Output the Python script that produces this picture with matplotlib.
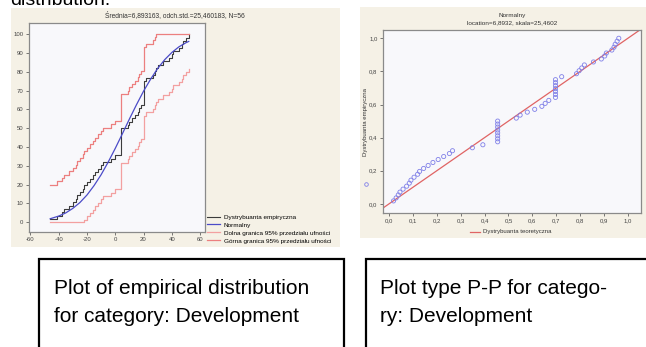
import matplotlib
matplotlib.use("Agg")
import matplotlib.pyplot as plt
from matplotlib.patches import Rectangle
from matplotlib.ticker import FuncFormatter

plt.rcParams['font.family'] = ['Liberation Sans', 'DejaVu Sans']
plt.rcParams['axes.unicode_minus'] = False

# --- empirical distribution (left chart) ---
step_x = [-46, -41, -38, -36, -33, -30, -28, -27, -25, -23, -22, -20, -18, -16, -14, -12,
          -10, -9, -3, 0, 4, 9, 10, 12, 14, 16, 17, 18, 20, 22, 27, 28, 29, 30, 34, 38,
          40, 41, 45, 47, 48, 50, 52]
ecdf_pct = [1.8, 3.6, 5.4, 7.1, 8.9, 10.7, 12.5, 14.3, 16.1, 17.9, 19.6, 21.4, 23.2, 25.0,
            26.8, 28.6, 30.4, 32.1, 33.9, 35.7, 50.0, 51.8, 53.6, 55.4, 57.1, 58.9, 60.7,
            62.5, 75.0, 76.8, 78.6, 80.4, 82.1, 83.9, 85.7, 87.5, 89.3, 91.1, 92.9, 94.6,
            96.4, 98.2, 100.0]
lower_pct = [0, 0, 0, 0, 0, 0, 0, 0, 0, 0, 1.4, 3.2, 5.0, 6.8, 8.6, 10.4, 12.2, 13.9, 15.7,
             17.5, 31.8, 33.6, 35.4, 37.2, 38.9, 40.7, 42.5, 44.3, 56.8, 58.6, 60.4, 62.2,
             63.9, 65.7, 67.5, 69.3, 71.1, 72.9, 74.7, 76.4, 78.2, 80.0, 81.8]
upper_pct = [20.0, 21.8, 23.6, 25.3, 27.1, 28.9, 30.7, 32.5, 34.3, 36.1, 37.8, 39.6, 41.4,
             43.2, 45.0, 46.8, 48.6, 50.3, 52.1, 53.9, 68.2, 70.0, 71.8, 73.6, 75.3, 77.1,
             78.9, 80.7, 93.2, 95.0, 96.8, 98.6, 100, 100, 100, 100, 100, 100, 100, 100,
             100, 100, 100]
normal_x = [-46, -40, -35, -30, -25, -20, -15, -10, -5, 0, 5, 10, 15, 20, 25, 30, 35, 40,
            45, 50, 52]
normal_pct = [1.9, 3.3, 5.0, 7.4, 10.5, 14.5, 19.5, 25.3, 32.0, 39.3, 47.0, 54.9, 62.5,
              69.7, 76.1, 81.8, 86.5, 90.3, 93.3, 95.5, 96.2]
left_labels = ['Dystrybuanta empiryczna', 'Normalny',
               'Dolna granica 95% przedziału ufności', 'Górna granica 95% przedziału ufności']

# --- P-P plot (right chart) ---
pp_theor = [0.019, 0.030, 0.039, 0.046, 0.059, 0.074, 0.085, 0.092, 0.105, 0.120, 0.128,
            0.145, 0.164, 0.184, 0.206, 0.229, 0.253, 0.266, 0.349, 0.393,
            0.455, 0.455, 0.455, 0.455, 0.455, 0.455, 0.455, 0.455,
            0.533, 0.549, 0.579, 0.610, 0.640, 0.654, 0.669,
            0.697, 0.697, 0.697, 0.697, 0.697, 0.697, 0.697,
            0.723, 0.785, 0.796, 0.807, 0.818, 0.856, 0.889, 0.903, 0.910, 0.933, 0.942,
            0.947, 0.955, 0.962]
pp_emp = [0.018, 0.036, 0.054, 0.071, 0.089, 0.107, 0.125, 0.143, 0.161, 0.179, 0.196,
          0.214, 0.232, 0.250, 0.268, 0.286, 0.304, 0.321, 0.339, 0.357,
          0.375, 0.393, 0.411, 0.429, 0.446, 0.464, 0.482, 0.500,
          0.518, 0.536, 0.554, 0.571, 0.589, 0.607, 0.625,
          0.643, 0.661, 0.679, 0.696, 0.714, 0.732, 0.750,
          0.768, 0.786, 0.804, 0.821, 0.839, 0.857, 0.875, 0.893, 0.911, 0.929, 0.946,
          0.964, 0.982, 1.000]

W, H = 646, 347
def fx(px):
    return px / W
def fy(py):
    return 1 - py / H

BEIGE = '#f5f1e6'
PLOTBG = '#f8f8fb'
TICK = '#444444'

fig = plt.figure(figsize=(6.46, 3.47), dpi=100)
fig.patch.set_facecolor('white')

# cut-off heading from the page above
fig.text(fx(10), fy(5), 'distribution.', fontsize=14, va='baseline', color='black')

# panel backgrounds
fig.patches.append(Rectangle((fx(11), fy(247)), (340 - 11) / W, (247 - 8) / H,
                             transform=fig.transFigure, facecolor=BEIGE, edgecolor='none', zorder=-5))
fig.patches.append(Rectangle((fx(360), fy(238)), (646 - 360) / W, (238 - 7) / H,
                             transform=fig.transFigure, facecolor=BEIGE, edgecolor='none', zorder=-5))

def style_axes(ax):
    ax.set_facecolor(PLOTBG)
    for s in ax.spines.values():
        s.set_color('#8a8a8a')
        s.set_linewidth(0.9)
    ax.tick_params(labelsize=4.3, colors=TICK, length=2, width=0.5, pad=2)

# left chart: empirical distribution function
ax1 = fig.add_axes([fx(29), fy(231.7), 176 / W, 208.7 / H])
style_axes(ax1)
ax1.step(step_x, ecdf_pct, where='post', color='#3c3c3c', lw=0.8, label=left_labels[0])
ax1.plot(normal_x, normal_pct, color='#4b4bc8', lw=0.9, label=left_labels[1])
ax1.step(step_x, lower_pct, where='post', color='#f3a0a0', lw=0.9, label=left_labels[2])
ax1.step(step_x, upper_pct, where='post', color='#ec7f7f', lw=0.9, label=left_labels[3])
ax1.set_xlim(-61, 63.5)
ax1.set_ylim(-5, 106)
ax1.set_xticks(range(-60, 61, 20))
ax1.set_yticks(range(0, 101, 10))
ax1.legend(loc='lower left', bbox_to_anchor=(fx(207), fy(243.5)), bbox_transform=fig.transFigure,
           fontsize=4.6, frameon=False, handlelength=2.0, handletextpad=0.6,
           labelspacing=0.38, borderpad=0, borderaxespad=0)
fig.text(fx(175), fy(15), 'Średnia=6,893163, odch.std.=25,460183, N=56',
         fontsize=4.8, ha='center', va='center', color='#333333')

# right chart: P-P plot
ax2 = fig.add_axes([fx(383), fy(213), 258 / W, 183 / H])
style_axes(ax2)
ax2.axline((0, 0), (1, 1), color='#e06464', lw=0.9)
ax2.scatter(pp_theor, pp_emp, s=9, facecolors='none', edgecolors='#8080e8', linewidths=0.6,
            zorder=3)
ax2.set_xlim(-0.025, 1.055)
ax2.set_ylim(-0.055, 1.05)
ax2.set_xticks([i / 10 for i in range(11)])
ax2.set_yticks([i / 5 for i in range(6)])
comma = FuncFormatter(lambda v, p: f'{v:.1f}'.replace('.', ','))
ax2.xaxis.set_major_formatter(comma)
ax2.yaxis.set_major_formatter(comma)
fig.text(fx(512), fy(16), 'Normalny', fontsize=4.6, ha='center', va='center', color='#333333')
fig.text(fx(512), fy(22.5), 'location=6,8932, skala=25,4602', fontsize=4.6, ha='center',
         va='center', color='#333333')
fig.text(fx(366), fy(122), 'Dystrybuanta empiryczna', fontsize=4.3, rotation=90,
         ha='center', va='center', color='#333333')
fig.lines.append(plt.Line2D([fx(366)], [fy(184)], marker='o', ms=2.6, mfc='none',
                            mec='#8080e8', mew=0.6, transform=fig.transFigure))
fig.lines.append(plt.Line2D([fx(470), fx(480)], [fy(232), fy(232)], color='#e06464', lw=0.9,
                            transform=fig.transFigure))
fig.text(fx(483), fy(232), 'Dystrybuanta teoretyczna', fontsize=4.3, va='center',
         color='#333333')

# caption boxes
for x0, x1 in [(39, 344), (366, 700)]:
    fig.patches.append(Rectangle((fx(x0), fy(380)), (x1 - x0) / W, (380 - 259) / H,
                                 transform=fig.transFigure, facecolor='white',
                                 edgecolor='black', lw=1.6, zorder=1))
fig.text(fx(54), fy(288), 'Plot of empirical distribution', fontsize=15, va='center')
fig.text(fx(54), fy(316), 'for category: Development', fontsize=15, va='center')
fig.text(fx(380), fy(288), 'Plot type P-P for catego-', fontsize=15, va='center')
fig.text(fx(380), fy(316), 'ry: Development', fontsize=15, va='center')

fig.savefig('out.png', dpi=100)
